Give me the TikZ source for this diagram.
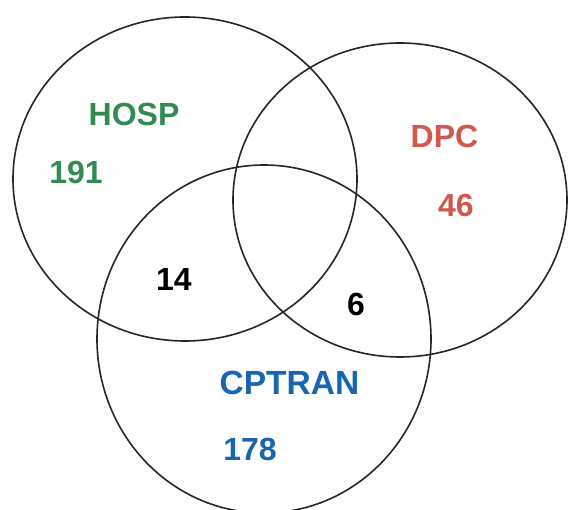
\documentclass[tikz,border=0pt]{standalone}
\usepackage{fontspec}
\setmainfont{Liberation Sans}
\definecolor{hospgreen}{RGB}{50,140,82}
\definecolor{dpcred}{RGB}{208,88,78}
\definecolor{cptblue}{RGB}{22,102,178}
\begin{document}
\begin{tikzpicture}[x=1pt,y=-1pt,
  setline/.style={draw=black!85,line width=1.6pt},
  setlabel/.style={font=\fontsize{32}{32}\selectfont\bfseries,inner sep=0pt,anchor=center},
  widelabel/.style={font=\fontsize{33.5}{33.5}\selectfont\bfseries,inner sep=0pt,anchor=center}]
  \useasboundingbox[fill=white] (0,0) rectangle (568,510);
  % the three sets
  \draw[setline] (185,179) ellipse [x radius=172, y radius=162];
  \draw[setline] (400,200) ellipse [x radius=167, y radius=157];
  \draw[setline] (264,339) ellipse [x radius=167, y radius=174];
  % set names and counts
  \node[setlabel,text=hospgreen] (hosp) at (134,114.5) {HOSP};
  \node[setlabel,text=hospgreen] (hospn) at (76,172.5) {191};
  \node[setlabel,text=dpcred] (dpc) at (444.5,136.5) {DPC};
  \node[setlabel,text=dpcred] (dpcn) at (456,205) {46};
  \node[widelabel,text=cptblue] (cpt) at (289.5,382.5) {CPTRAN};
  \node[setlabel,text=cptblue] (cptn) at (250,449) {178};
  % overlaps
  \node[setlabel,text=black] (hc) at (174,279.5) {14};
  \node[setlabel,text=black] (dc) at (356,304.5) {6};
\end{tikzpicture}
\end{document}
